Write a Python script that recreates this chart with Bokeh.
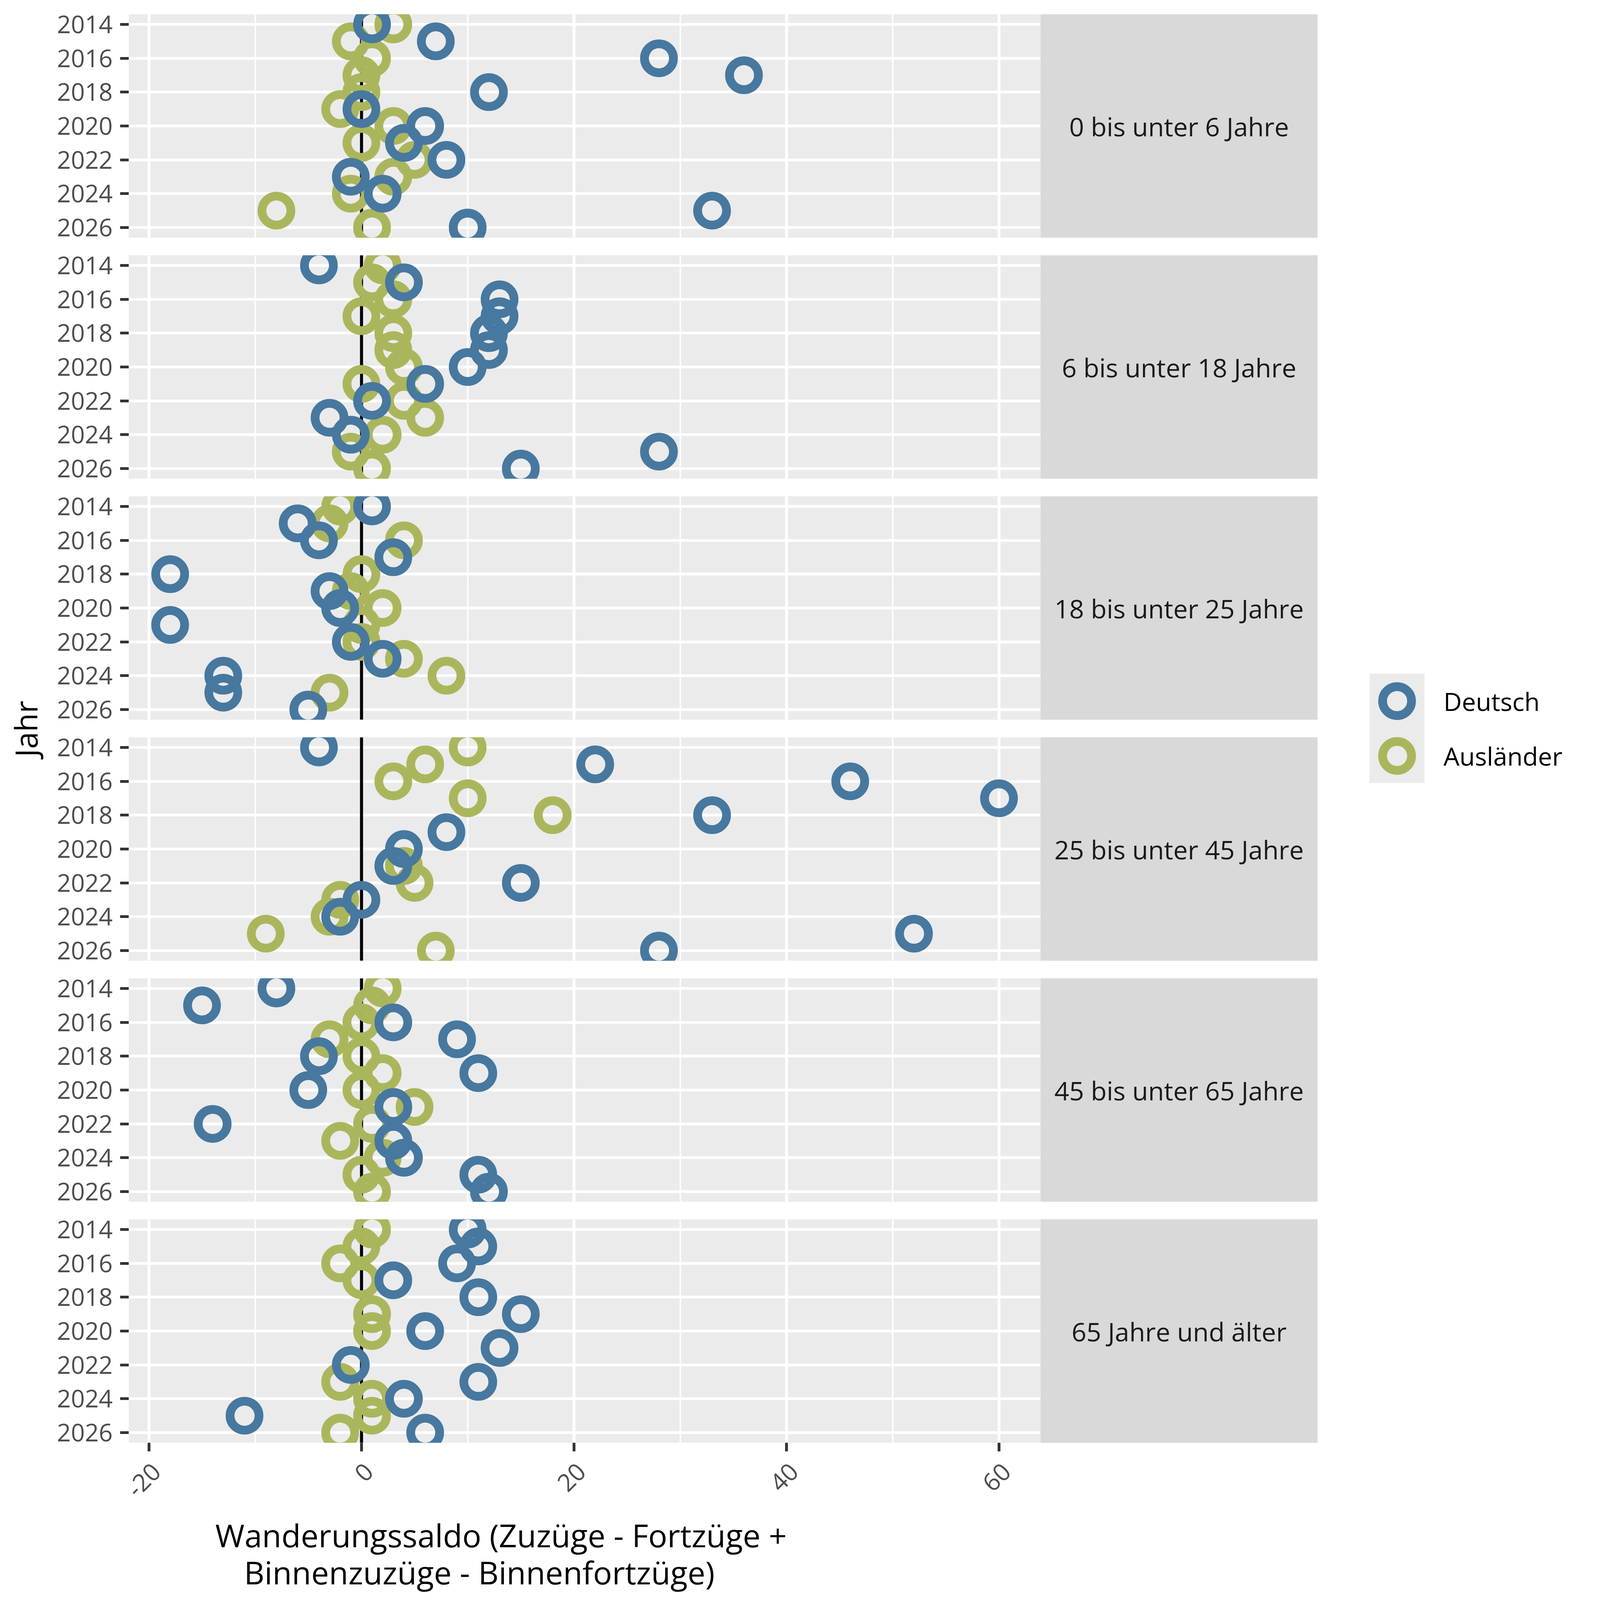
import math
import numpy as np
from bokeh.plotting import figure
from bokeh.layouts import row, column
from bokeh.models import Range1d, FixedTicker
from bokeh.embed import file_html
from bokeh.resources import INLINE
from bokeh.core.properties import value

nan = float("nan")

# ---------------- data ----------------
years = [2014, 2015, 2016, 2017, 2018, 2019, 2020, 2021, 2022, 2023, 2024, 2025, 2026]
year_ticks = [2014, 2016, 2018, 2020, 2022, 2024, 2026]
x_ticks = [-20, 0, 20, 40, 60]
x_minor = [-10, 10, 30, 50]
x_tick_labels = ["-20", "0", "20", "40", "60"]

age_groups = ["0 bis unter 6 Jahre", "6 bis unter 18 Jahre", "18 bis unter 25 Jahre",
              "25 bis unter 45 Jahre", "45 bis unter 65 Jahre", "65 Jahre und älter"]
series_names = ["Deutsch", "Ausländer"]

deutsch_0_6 = [1, 7, 28, 36, 12, 0, 6, 4, 8, -1, 2, 33, 10]
auslaender_0_6 = [3, -1, 1, 0, 0, -2, 3, 0, 5, 3, -1, -8, 1]
deutsch_6_18 = [-4, 4, 13, 13, 12, 12, 10, 6, 1, -3, -1, 28, 15]
auslaender_6_18 = [2, 1, 3, 0, 3, 3, 4, 0, 4, 6, 2, -1, 1]
deutsch_18_25 = [1, -6, -4, 3, -18, -3, -2, -18, -1, 2, -13, -13, -5]
auslaender_18_25 = [-2, -3, 4, nan, 0, -1, 2, 0, 0, 4, 8, -3, nan]
deutsch_25_45 = [-4, 22, 46, 60, 33, 8, 4, 3, 15, 0, -2, 52, 28]
auslaender_25_45 = [10, 6, 3, 10, 18, nan, nan, 4, 5, -2, -3, -9, 7]
deutsch_45_65 = [-8, -15, 3, 9, -4, 11, -5, 3, -14, 3, 4, 11, 12]
auslaender_45_65 = [2, 1, 0, -3, 0, 2, 0, 5, 1, -2, 2, 0, 1]
deutsch_65 = [10, 11, 9, 3, 11, 15, 6, 13, -1, 11, 4, -11, 6]
auslaender_65 = [1, 0, -2, 0, nan, 1, 1, nan, nan, -2, 1, 1, -2]

deutsch = [deutsch_0_6, deutsch_6_18, deutsch_18_25, deutsch_25_45, deutsch_45_65, deutsch_65]
auslaender = [auslaender_0_6, auslaender_6_18, auslaender_18_25, auslaender_25_45, auslaender_45_65, auslaender_65]

x_title_1 = "Wanderungssaldo (Zuzüge - Fortzüge +"
x_title_2 = "Binnenzuzüge - Binnenfortzüge)"
y_title = "Jahr"

# ---------------- style / layout (CSS px) ----------------
S = 4096 / 4200          # page px per picture px
FONT = "Open Sans"
BLUE = "#47789f"
GREEN = "#abb65c"
PANEL_BG = "#EBEBEB"
STRIP_BG = "#D9D9D9"


def r(v):
    return v * S


def px(v):
    return f"{v * S:.1f}px"


TOTAL = 4080
LEFT_W = 117
FRAME_W = 2334
FRAME_H = 572
STRIP_W = 710
BORDER_L = 212
MID_W = BORDER_L + FRAME_W + STRIP_W
RIGHT_W = TOTAL - LEFT_W - MID_W
X_START, X_END = -21.9, 63.9
PX_PER_UNIT = FRAME_W / (X_END - X_START)

POINT_SIZE = r(76)
POINT_LW = r(23)
GRID_W = r(7.4)
TICK_LEN = 22


def borders(i):
    top = 36 if i == 0 else 23
    bottom = 26 if i == 5 else 22
    return top, bottom


def base_fig(**kw):
    p = figure(output_backend="svg", toolbar_location=None, tools="", title=None, **kw)
    p.border_fill_color = "white"
    p.outline_line_color = None
    return p


def style_ticks(ax):
    ax.axis_line_color = None
    ax.major_tick_line_color = "#333333"
    ax.major_tick_line_width = GRID_W
    ax.major_tick_out = TICK_LEN
    ax.major_tick_in = 0
    ax.minor_tick_line_color = None


def make_panel(i):
    last = i == 5
    top, bottom = borders(i)
    p = base_fig(frame_width=FRAME_W, frame_height=FRAME_H,
                 x_range=Range1d(X_START, X_END), y_range=Range1d(2026.6, 2013.4),
                 x_axis_location="below" if last else None, y_axis_location="left",
                 min_border_left=BORDER_L, min_border_right=0,
                 min_border_top=top, min_border_bottom=bottom)
    p.background_fill_color = PANEL_BG
    p.xgrid.ticker = FixedTicker(ticks=x_ticks, minor_ticks=x_minor)
    p.xgrid.grid_line_color = "white"
    p.xgrid.grid_line_width = GRID_W
    p.xgrid.minor_grid_line_color = "white"
    p.xgrid.minor_grid_line_width = GRID_W / 2
    p.ygrid.ticker = FixedTicker(ticks=year_ticks)
    p.ygrid.grid_line_color = "white"
    p.ygrid.grid_line_width = GRID_W

    p.vspan(x=[0], line_color="black", line_width=r(8))
    p.scatter(x=auslaender[i], y=years, marker="circle", size=POINT_SIZE, line_width=POINT_LW,
              line_color=GREEN, fill_color=None)
    p.scatter(x=deutsch[i], y=years, marker="circle", size=POINT_SIZE, line_width=POINT_LW,
              line_color=BLUE, fill_color=None)

    ay = p.yaxis[0]
    ay.ticker = FixedTicker(ticks=year_ticks)
    style_ticks(ay)
    ay.major_label_text_font = FONT
    ay.major_label_text_font_size = px(64)
    ay.major_label_text_color = "#4D4D4D"
    ay.major_label_standoff = 19
    if last:
        # ticks from the axis; its labels are drawn rotated in the block below
        ax = p.xaxis[0]
        ax.ticker = FixedTicker(ticks=x_ticks)
        style_ticks(ax)
        ax.major_label_text_font_size = "1px"
        ax.major_label_text_color = None
        ax.major_label_standoff = 0
    return p


def make_strip(i):
    top, bottom = borders(i)
    s = base_fig(frame_width=STRIP_W, frame_height=FRAME_H,
                 x_range=Range1d(0, 1), y_range=Range1d(0, 1),
                 x_axis_location=None, y_axis_location=None,
                 min_border_left=0, min_border_right=0,
                 min_border_top=top, min_border_bottom=bottom)
    s.background_fill_color = STRIP_BG
    s.grid.visible = False
    s.text(x=[0.5], y=[0.5], text=[age_groups[i]], text_align="center", text_baseline="middle",
           text_font=value(FONT), text_font_size=px(68), text_color="#1A1A1A")
    return s


rows = [row(make_panel(i), make_strip(i)) for i in range(6)]
used_h = sum(FRAME_H + sum(borders(i)) for i in range(6))
XT_H = TOTAL - used_h


def page_y_to_xt(y_ref):
    return TOTAL - (y_ref * S - 8)


def page_x_to_xt(x_ref):
    return x_ref * S - 8 - LEFT_W


# block under the panels: rotated x tick labels and x-axis title
xt = base_fig(width=MID_W, height=XT_H,
              x_range=Range1d(0, MID_W), y_range=Range1d(0, XT_H),
              x_axis_location=None, y_axis_location=None, min_border=0)
xt.extra_x_ranges = {"val": Range1d(X_START - BORDER_L / PX_PER_UNIT,
                                    X_START + (MID_W - BORDER_L) / PX_PER_UNIT)}
xt.grid.visible = False
xt.background_fill_color = "white"
xt.text(x=x_ticks, y=[page_y_to_xt(3843)] * len(x_ticks), text=x_tick_labels, x_range_name="val",
        angle=math.pi / 4, text_align="right", text_baseline="top", x_offset=r(3),
        text_font=value(FONT), text_font_size=px(64), text_color="#4D4D4D")
xt.text(x=[page_x_to_xt(1323), page_x_to_xt(1266)], y=[page_y_to_xt(4037), page_y_to_xt(4135)],
        text=[x_title_1, x_title_2], text_align="center",
        text_baseline="alphabetic", text_font=value(FONT), text_font_size=px(83), text_color="black")

middle = column(*rows, xt)

# y-axis title
left = base_fig(width=LEFT_W, height=TOTAL, x_range=Range1d(0, LEFT_W), y_range=Range1d(0, TOTAL),
                x_axis_location=None, y_axis_location=None, min_border=0)
left.grid.visible = False
left.background_fill_color = "white"
left.text(x=[75 * S - 8], y=[TOTAL - (1921 * S - 8)], text=[y_title], angle=math.pi / 2,
          text_align="center", text_baseline="middle", text_font=value(FONT),
          text_font_size=px(80), text_color="black")

# legend
right = base_fig(width=RIGHT_W, height=TOTAL, x_range=Range1d(0, RIGHT_W), y_range=Range1d(0, TOTAL),
                 x_axis_location=None, y_axis_location=None, min_border=0)
right.grid.visible = False
right.background_fill_color = "white"
RX0 = LEFT_W + MID_W


def rx(x_ref):
    return x_ref * S - 8 - RX0


def ry(y_ref):
    return TOTAL - (y_ref * S - 8)


right.quad(left=[rx(3603)], right=[rx(3747)], top=[ry(1776)], bottom=[ry(2063)],
           fill_color=PANEL_BG, line_color=None)
right.scatter(x=[rx(3675), rx(3675)], y=[ry(1848), ry(1992)], marker="circle", size=POINT_SIZE,
              line_width=POINT_LW, line_color=[BLUE, GREEN], fill_color=None)
right.text(x=[rx(3797), rx(3797)], y=[ry(1848), ry(1992)], text=series_names, text_align="left",
           text_baseline="middle", text_font=value(FONT), text_font_size=px(66), text_color="black")

root = row(left, middle, right)

open("out.html", "w").write(file_html(root, INLINE))
